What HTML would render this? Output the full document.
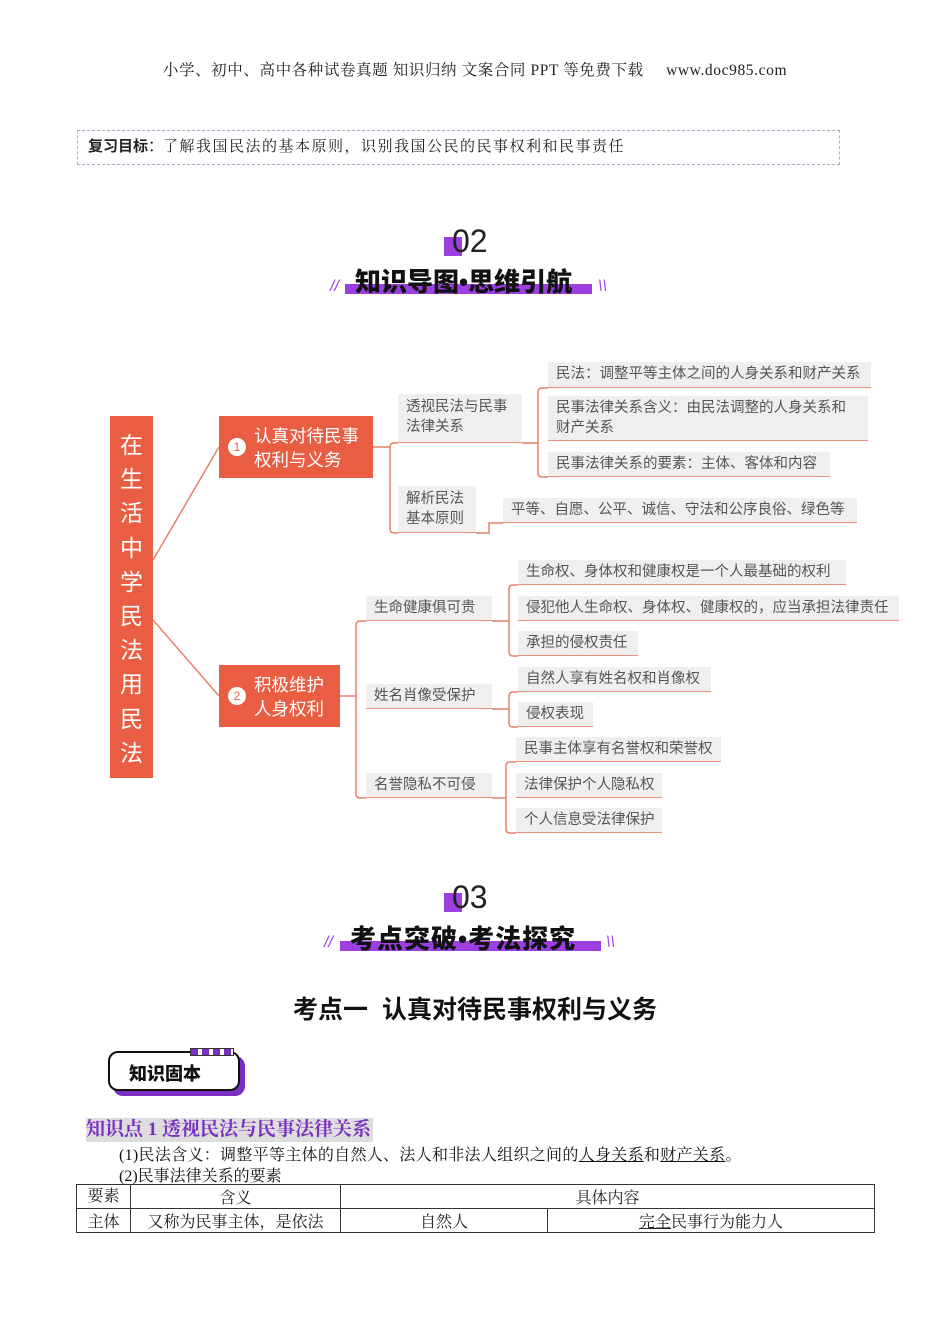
<!DOCTYPE html>
<html><head><meta charset="utf-8"><style>
*{margin:0;padding:0;box-sizing:border-box}
body{width:950px;height:1344px;background:#fff;position:relative;font-family:"Liberation Sans","Noto Sans CJK SC",sans-serif;overflow:hidden}
.a{position:absolute}
.lf{position:absolute;background:#f0efee;border-bottom:1.5px solid #e8907c;color:#555;font-size:14.5px;line-height:20px;padding:2px 0 0 8px;white-space:nowrap}
.or{position:absolute;background:#e95e43;color:#fff;font-size:17px;line-height:24px}
.num{position:absolute;width:18px;height:18px;border-radius:50%;background:#fff;color:#e95e43;font-size:12px;text-align:center;line-height:18px}
.serif{font-family:"Liberation Serif","Noto Serif CJK SC",serif}
.ttl{position:absolute;font-weight:900;font-size:26px;color:#111;letter-spacing:0px}
</style></head><body>
<div class="a serif" style="left:0;width:950px;top:58px;text-align:center;font-size:15.5px;color:#222;letter-spacing:0.6px">小学、初中、高中各种试卷真题 知识归纳 文案合同 PPT 等免费下载 &nbsp;&nbsp;&nbsp;&nbsp;www.doc985.com</div>
<div class="a" style="left:77px;top:130px;width:763px;height:35px;border:1px dashed #b9a3cc"></div>
<div class="a" style="left:88px;top:135px;font-size:15px;color:#222"><b>复习目标</b>：<span class="serif" style="letter-spacing:1.5px">了解我国民法的基本原则，识别我国公民的民事权利和民事责任</span></div>

<div class="a" style="left:444px;top:237px;width:18px;height:19px;background:#9b3fe0"></div>
<div class="a" style="left:452px;top:222px;font-size:32px;color:#222;line-height:38px">02</div>
<div class="a" style="left:345px;top:284px;width:247px;height:10px;background:#9b3fe0"></div>
<div class="ttl" style="left:355px;top:262px">知识导图•思维引航</div>
<div class="a" style="left:330px;top:278px;color:#9b3fe0;font-size:16px;font-style:italic">//</div>
<div class="a" style="left:598px;top:278px;color:#9b3fe0;font-size:16px;font-style:italic">\\</div>

<svg class="a" style="left:0;top:0" width="950" height="1344">
<g fill="none" stroke="#e8806a" stroke-width="1.5">
<path d="M153 560 L219 447"/><path d="M153 620 L219 696"/>
<path d="M373 447 H390"/>
<path d="M398 443 H394 Q390 443 390 447 V529 Q390 533 394 533 H398"/>
<path d="M522 443 H538"/>
<path d="M548 388 H542 Q538 388 538 392 V473 Q538 477 542 477 H548"/>
<path d="M476 533 H489 V523 H503"/>
<path d="M340 696 H356"/>
<path d="M366 621 H360 Q356 621 356 625 V794 Q356 798 360 798 H366"/>
<path d="M492 621 H509"/>
<path d="M518 585 H513 Q509 585 509 589 V652 Q509 656 513 656 H518"/>
<path d="M492 709 H509"/>
<path d="M518 692 H513 Q509 692 509 696 V723 Q509 727 513 727 H518"/>
<path d="M492 798 H506"/>
<path d="M516 762 H510 Q506 762 506 766 V829 Q506 833 510 833 H516"/>
</g></svg>

<div class="or" style="left:110px;top:416px;width:43px;height:362px;font-size:23px;line-height:34.2px;text-align:center;padding-top:12px">在<br>生<br>活<br>中<br>学<br>民<br>法<br>用<br>民<br>法</div>
<div class="or" style="left:219px;top:416px;width:154px;height:62px;padding:8px 0 0 35px;font-size:17.5px">认真对待民事<br>权利与义务</div>
<div class="num" style="left:228px;top:438px">1</div>
<div class="or" style="left:219px;top:665px;width:121px;height:62px;padding:8px 0 0 35px;font-size:17.5px">积极维护<br>人身权利</div>
<div class="num" style="left:228px;top:687px">2</div>

<div class="lf" style="left:398px;top:394px;width:124px;height:49px;padding-top:3px">透视民法与民事<br>法律关系</div>
<div class="lf" style="left:398px;top:486px;width:78px;height:47px;padding-top:3px">解析民法<br>基本原则</div>
<div class="lf" style="left:548px;top:362px;width:323px;height:26px">民法：调整平等主体之间的人身关系和财产关系</div>
<div class="lf" style="left:548px;top:396px;width:320px;height:45px;padding-top:2px">民事法律关系含义：由民法调整的人身关系和<br>财产关系</div>
<div class="lf" style="left:548px;top:452px;width:282px;height:25px">民事法律关系的要素：主体、客体和内容</div>
<div class="lf" style="left:503px;top:498px;width:354px;height:25px">平等、自愿、公平、诚信、守法和公序良俗、绿色等</div>

<div class="lf" style="left:366px;top:596px;width:126px;height:25px">生命健康俱可贵</div>
<div class="lf" style="left:366px;top:684px;width:126px;height:25px">姓名肖像受保护</div>
<div class="lf" style="left:366px;top:773px;width:126px;height:25px">名誉隐私不可侵</div>
<div class="lf" style="left:518px;top:560px;width:328px;height:25px">生命权、身体权和健康权是一个人最基础的权利</div>
<div class="lf" style="left:518px;top:596px;width:381px;height:25px">侵犯他人生命权、身体权、健康权的，应当承担法律责任</div>
<div class="lf" style="left:518px;top:631px;width:120px;height:25px">承担的侵权责任</div>
<div class="lf" style="left:518px;top:667px;width:193px;height:25px">自然人享有姓名权和肖像权</div>
<div class="lf" style="left:518px;top:702px;width:75px;height:25px">侵权表现</div>
<div class="lf" style="left:516px;top:737px;width:205px;height:25px">民事主体享有名誉权和荣誉权</div>
<div class="lf" style="left:516px;top:773px;width:146px;height:25px">法律保护个人隐私权</div>
<div class="lf" style="left:516px;top:808px;width:146px;height:25px">个人信息受法律保护</div>

<div class="a" style="left:444px;top:893px;width:18px;height:19px;background:#9b3fe0"></div>
<div class="a" style="left:452px;top:878px;font-size:32px;color:#222;line-height:38px">03</div>
<div class="a" style="left:340px;top:941px;width:261px;height:10px;background:#9b3fe0"></div>
<div class="ttl" style="left:350px;top:919px;letter-spacing:1px">考点突破•考法探究</div>
<div class="a" style="left:324px;top:934px;color:#9b3fe0;font-size:16px;font-style:italic">//</div>
<div class="a" style="left:606px;top:934px;color:#9b3fe0;font-size:16px;font-style:italic">\\</div>

<div class="a" style="left:0;width:950px;top:990px;text-align:center;font-size:25px;font-weight:bold;color:#111">考点一&nbsp; 认真对待民事权利与义务</div>

<div class="a" style="left:113px;top:1056px;width:132px;height:40px;background:#7a2fc0;border-radius:10px"></div>
<div class="a" style="left:108px;top:1051px;width:132px;height:40px;background:#fff;border:2.5px solid #111;border-radius:10px;font-size:18px;font-weight:900;color:#111;padding:7px 0 0 19px">知识固本</div>
<div class="a" style="left:190px;top:1048px;width:44px;height:8px;background:repeating-linear-gradient(90deg,#7a2fc0 0 7px,#fff 7px 11px);border:1px solid #333"></div>

<div class="a serif" style="left:86px;top:1118px;background:#ddd;font-size:19px;font-weight:bold;color:#7a2fc0;line-height:24px;padding-right:2px">知识点 1 透视民法与民事法律关系</div>
<div class="a serif" style="left:119px;top:1142px;font-size:16px;color:#111;letter-spacing:0.3px">(1)民法含义：调整平等主体的自然人、法人和非法人组织之间的<u>人身关系</u>和<u>财产关系</u>。</div>
<div class="a serif" style="left:119px;top:1163px;font-size:16px;color:#111">(2)民事法律关系的要素</div>
<table class="a serif" style="left:76px;top:1184px;width:799px;border-collapse:collapse;font-size:16px;color:#222">
<tr style="height:21px"><td style="border:1px solid #333;width:54px;text-align:center;line-height:18px">要素</td><td style="border:1px solid #333;width:210px;text-align:center">含义</td><td colspan="2" style="border:1px solid #333;text-align:center">具体内容</td></tr>
<tr style="height:24px"><td style="border:1px solid #333;text-align:center">主体</td><td style="border:1px solid #333;text-align:center">又称为民事主体，是依法</td><td style="border:1px solid #333;width:207px;text-align:center">自然人</td><td style="border:1px solid #333;text-align:center"><u>完全</u>民事行为能力人</td></tr>
</table>
</body></html>
